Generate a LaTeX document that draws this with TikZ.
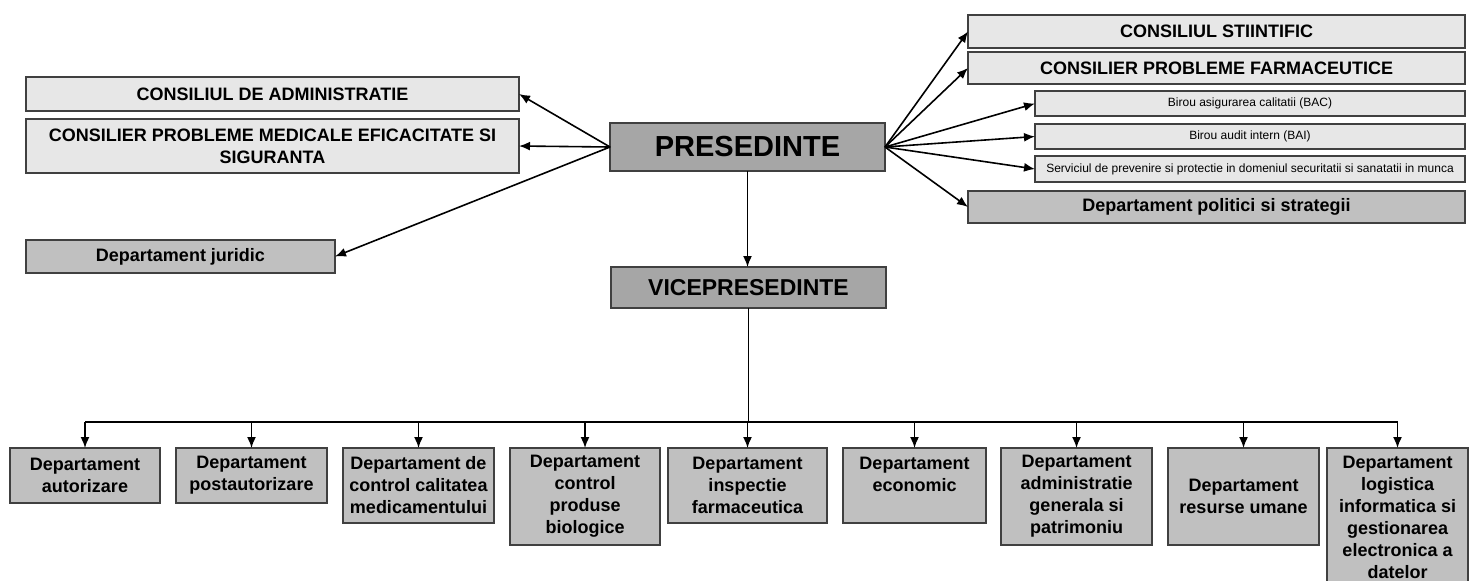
\documentclass[tikz,border=0pt]{standalone}
\usepackage{fontspec}
\setmainfont{Liberation Sans}
\usetikzlibrary{arrows.meta,positioning,calc}
\definecolor{boxlight}{RGB}{231,231,231}
\definecolor{boxgrey}{RGB}{192,192,192}
\definecolor{boxdark}{RGB}{166,166,166}
\definecolor{boxline}{RGB}{64,64,64}

\begin{document}
\begin{tikzpicture}[x=0.5pt,y=-0.5pt,>={Latex[length=5.5pt,width=4.5pt]},
  box/.style={rectangle,draw=boxline,line width=0.85pt,anchor=north west,inner sep=1pt,outer sep=0pt,align=center,font=\bfseries\fontsize{9}{11}\selectfont},
  council/.style={box,fill=boxlight},
  office/.style={box,fill=boxlight,font=\fontsize{6}{7}\selectfont},
  dept/.style={box,fill=boxgrey},
  head/.style={box,fill=boxdark},
  link/.style={->,line width=0.8pt}]
  \useasboundingbox (0,0) rectangle (1470,580);

  % conducere
  \node[head,minimum width=137.5pt,minimum height=24pt,font=\bfseries\fontsize{14.5}{17}\selectfont] (pres) at (610,123) {PRESEDINTE};
  \node[head,minimum width=137.5pt,minimum height=20.5pt,font=\bfseries\fontsize{11.5}{14}\selectfont] (vice) at (611,267) {VICEPRESEDINTE};

  % stanga
  \node[council,minimum width=246.5pt,minimum height=17pt] (adm) at (26,77) {CONSILIUL DE ADMINISTRATIE};
  \node[council,minimum width=246.5pt,minimum height=27pt] (med) at (26,119) {CONSILIER PROBLEME MEDICALE EFICACITATE SI\\SIGURANTA};
  \node[dept,minimum width=154.5pt,minimum height=16.5pt] (jur) at (26,240) {Departament juridic};

  % dreapta
  \node[council,minimum width=248.5pt,minimum height=16.5pt] (stiint) at (968,15) {CONSILIUL STIINTIFIC};
  \node[council,minimum width=248.5pt,minimum height=16pt] (farma) at (968,52) {CONSILIER PROBLEME FARMACEUTICE};
  \node[office,minimum width=215pt,minimum height=12.5pt] (bac) at (1035,91) {Birou asigurarea calitatii (BAC)};
  \node[office,minimum width=215pt,minimum height=12.5pt] (bai) at (1035,124) {Birou audit intern (BAI)};
  \node[office,minimum width=215pt,minimum height=13pt] (ssm) at (1035,156) {Serviciul de prevenire si protectie in domeniul securitatii si sanatatii in munca};
  \node[dept,minimum width=248.5pt,minimum height=16pt] (polit) at (968,191) {Departament politici si strategii};

  % departamente
  \node[dept,minimum width=75pt,minimum height=27.5pt] (d1) at (10,448) {Departament\\autorizare};
  \node[dept,minimum width=75.5pt,minimum height=27.5pt] (d2) at (176,448) {Departament\\postautorizare};
  \node[dept,minimum width=75.5pt,minimum height=37.5pt] (d3) at (343,448) {Departament de\\control calitatea\\medicamentului};
  \node[dept,minimum width=75pt,minimum height=48.5pt] (d4) at (510,448) {Departament\\control\\produse\\biologice};
  \node[dept,minimum width=79.5pt,minimum height=37.5pt] (d5) at (668,448) {Departament\\inspectie\\farmaceutica};
  \node[dept,minimum width=71.5pt,minimum height=37.5pt] (d6) at (843,448) {Departament\\economic\\\mbox{}};
  \node[dept,minimum width=75.5pt,minimum height=48.5pt] (d7) at (1001,448) {Departament\\administratie\\generala si\\patrimoniu};
  \node[dept,minimum width=75.5pt,minimum height=48.5pt] (d8) at (1168,448) {Departament\\resurse umane};
  \node[dept,minimum width=70.5pt,minimum height=69pt] (d9) at (1327,448) {Departament\\logistica\\informatica si\\gestionarea\\electronica a\\datelor};

  \draw[link] (pres.west) -- (adm.east);
  \draw[link] (pres.west) -- (med.east);
  \draw[link] (pres.west) -- (jur.east);

  \draw[link] (pres.east) -- (stiint.west);
  \draw[link] (pres.east) -- (farma.west);
  \draw[link] (pres.east) -- (bac.west);
  \draw[link] (pres.east) -- (bai.west);
  \draw[link] (pres.east) -- (ssm.west);
  \draw[link] (pres.east) -- (polit.west);

  \draw[link] (pres.south) -- (pres.south |- vice.north);

  % bara orizontala
  \coordinate (bus) at (748,422);
  \draw[line width=0.9pt] (vice.south) -- (vice.south |- bus);
  \draw[line width=0.9pt] (d1.north |- bus) -- (d9.north |- bus);
  \foreach \i in {1,...,9}
    \draw[link] (d\i.north |- bus) -- (d\i.north);

\end{tikzpicture}
\end{document}
